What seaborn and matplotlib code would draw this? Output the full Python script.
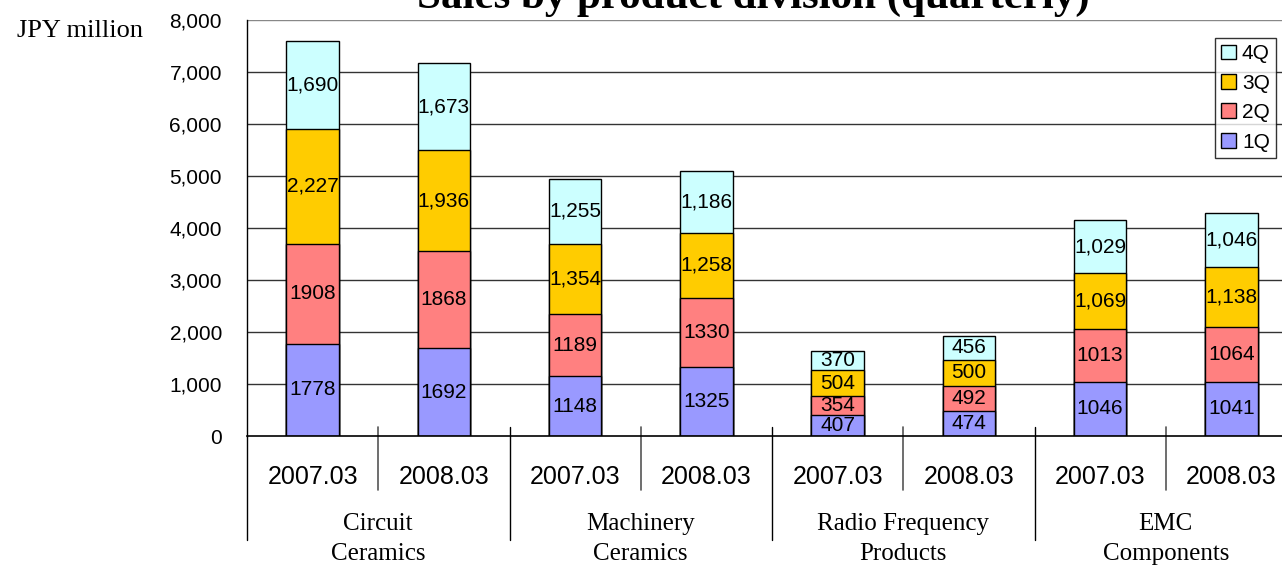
import numpy as np
import pandas as pd
import matplotlib
matplotlib.use("Agg")
import matplotlib.pyplot as plt
from matplotlib.patches import Patch
import seaborn as sns

# data (JPY million)
divisions = ["Circuit\nCeramics", "Machinery\nCeramics", "Radio Frequency\nProducts", "EMC\nComponents"]
years = ["2007.03", "2008.03"]
q1 = [1778, 1692, 1148, 1325, 407, 474, 1046, 1041]
q2 = [1908, 1868, 1189, 1330, 354, 492, 1013, 1064]
q3 = [2227, 1936, 1354, 1258, 504, 500, 1069, 1138]
q4 = [1690, 1673, 1255, 1186, 370, 456, 1029, 1046]
quarters = ["1Q", "2Q", "3Q", "4Q"]
colors = ["#9999FF", "#FF8080", "#FFCC00", "#CCFFFF"]

bars = [f"{d.split()[0]} {y}" for d in divisions for y in years]
vals = np.array([q1, q2, q3, q4])
cum = vals.cumsum(axis=0)

sns.set_style("white")
plt.rcParams["font.family"] = ["Liberation Sans", "DejaVu Sans"]
plt.rcParams["text.color"] = "black"
plt.rcParams["ytick.labelcolor"] = "black"

fig = plt.figure(figsize=(12.82, 5.66), dpi=100)
ax = fig.add_axes([247 / 1282, 130 / 566, 1050 / 1282, 416 / 566])

# stacked bars: draw the running totals from the top down
for i in range(3, -1, -1):
    df = pd.DataFrame({"bar": bars, "total": cum[i]})
    sns.barplot(data=df, x="bar", y="total", order=bars, color=colors[i],
                saturation=1, width=0.4, edgecolor="black", linewidth=1, ax=ax)

# segment labels
for i in range(4):
    for j in range(len(bars)):
        v = vals[i][j]
        txt = f"{v:,}" if i >= 2 else f"{v}"
        ax.text(j, cum[i][j] - v / 2, txt, ha="center", va="center", fontsize=15, color="black")

ax.set_xlim(-0.5, 7.5)
ax.set_ylim(0, 8000)
ax.set_yticks(np.arange(0, 8001, 1000))
ax.set_yticklabels([f"{t:,}" for t in range(0, 8001, 1000)], fontsize=15, color="black")
ax.tick_params(axis="y", direction="in", length=7, width=1.5, color="#555555", pad=18)
ax.set_xticks([])
ax.set_xlabel("")
ax.set_ylabel("")
for t in range(1000, 8001, 1000):
    ax.axhline(t, color="#333333" if t < 8000 else "#888888", lw=1, zorder=0)
for s in ["top", "right"]:
    ax.spines[s].set_visible(False)
ax.spines["left"].set_color("black")
ax.spines["bottom"].set_color("black")
ax.spines["left"].set_linewidth(1)
ax.spines["bottom"].set_linewidth(1.2)

# two level category axis
tr = ax.get_xaxis_transform()
for j in range(len(bars)):
    ax.text(j, -0.099, years[j % 2], transform=tr, ha="center", va="center", fontsize=18)
for k, d in enumerate(divisions):
    ax.text(2 * k + 0.5, -0.247, d, transform=tr, ha="center", va="center",
            fontsize=18, family="Liberation Serif", linespacing=1.45)
ax.plot([-0.5, -0.5], [0, -0.25], transform=tr, color="black", lw=1, clip_on=False)
for x in [0.5, 2.5, 4.5, 6.5]:
    ax.plot([x, x], [0.0216, -0.13], transform=tr, color="#555555", lw=1.2, clip_on=False)
for x in [1.5, 3.5, 5.5]:
    ax.plot([x, x], [0.0216, -0.25], transform=tr, color="black", lw=1, clip_on=False)

# legend
handles = [Patch(facecolor=colors[i], edgecolor="black", label=quarters[i]) for i in range(3, -1, -1)]
leg = ax.legend(handles=handles, loc="upper right", bbox_to_anchor=(1276 / 1282, 1 - 38 / 566),
                bbox_transform=fig.transFigure, fontsize=15, frameon=True, fancybox=False,
                handlelength=0.7, handleheight=0.7, handletextpad=0.3, borderpad=0.3,
                labelspacing=0.5, borderaxespad=0)
leg.get_frame().set_edgecolor("black")
leg.get_frame().set_linewidth(1)

fig.text(17 / 1282, 1 - 31 / 566, "JPY million", ha="left", va="center", fontsize=19,
         family="Liberation Serif")
fig.text(753 / 1282, 1 - 8 / 566, "Sales by product division (quarterly)", ha="center",
         va="baseline", fontsize=31, fontweight="bold", family="Liberation Serif")

fig.savefig("out.png", dpi=100)
